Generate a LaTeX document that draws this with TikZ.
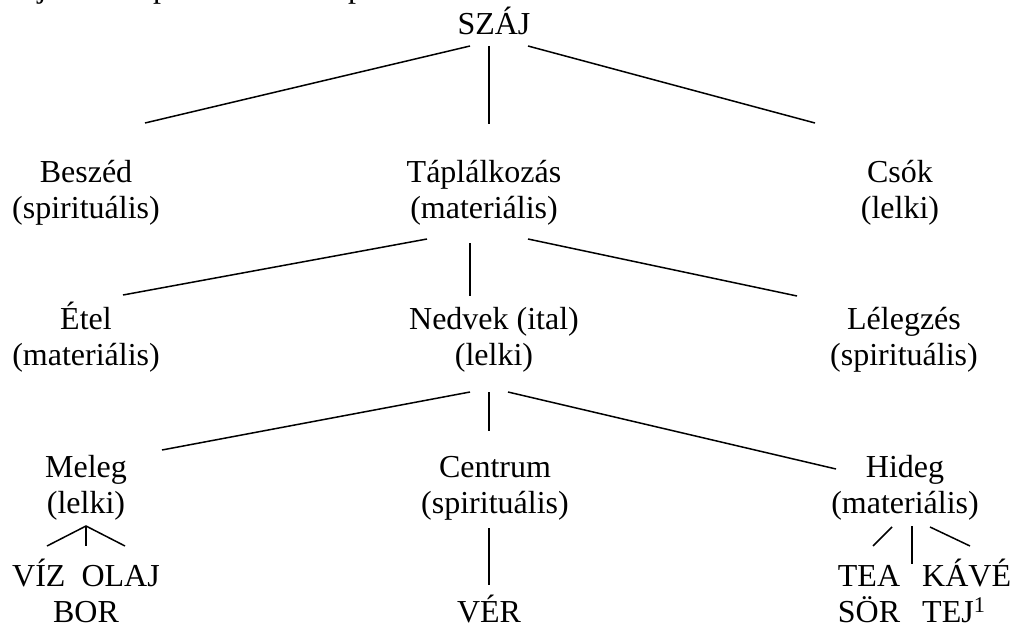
\documentclass[tikz,border=0pt]{standalone}
\usepackage{fontspec}
\setmainfont{Liberation Serif}
\begin{document}
\begin{tikzpicture}[x=1pt,y=-1pt,
  txt/.style={inner sep=0pt, align=center, anchor=base, font=\fontsize{32}{36}\selectfont},
  link/.style={line width=1.5pt}]
\useasboundingbox (0,0) rectangle (1013,626);
% cut-off line above
\begin{scope}
\clip (0,0) rectangle (1013,626);
\node[txt] (f1) at (42,-2) {j};
\node[txt] (f2) at (161,-2) {p};
\node[txt] (f3) at (356,-2) {p};
\end{scope}
% nodes (two-line nodes are placed by the baseline of their last line)
\node[txt] (szaj) at (494,35) {SZÁJ};
\node[txt] (besz) at (86,218) {Beszéd\\(spirituális)};
\node[txt] (tapl) at (484,218) {Táplálkozás\\(materiális)};
\node[txt] (csok) at (900,218) {Csók\\(lelki)};
\node[txt] (etel) at (86,365) {Étel\\(materiális)};
\node[txt] (nedv) at (494,365) {Nedvek (ital)\\(lelki)};
\node[txt] (lele) at (904,365) {Lélegzés\\(spirituális)};
\node[txt] (mele) at (86,513) {Meleg\\(lelki)};
\node[txt] (cent) at (495,513) {Centrum\\(spirituális)};
\node[txt] (hide) at (905,513) {Hideg\\(materiális)};
\node[txt] (viz) at (86,622) {VÍZ\hspace{0.5em}OLAJ\\BOR};
\node[txt] (ver) at (489,622) {VÉR};
\node[txt] (tea) at (869,622) {TEA\\SÖR};
\node[txt,anchor=base west] (kave) at (922,586) {KÁVÉ};
\node[txt,anchor=base west] (tej) at (922,622) {TEJ\textsuperscript{1}};
% connector end points
\coordinate (s1) at (470,46);  \coordinate (s2) at (489,46);  \coordinate (s3) at (528,46);
\coordinate (b0) at (145,123); \coordinate (t0) at (489,124); \coordinate (c0) at (815,123);
\coordinate (t1) at (427,239); \coordinate (t2) at (470,243); \coordinate (t3) at (528,239);
\coordinate (e0) at (123,295); \coordinate (n0) at (470,296); \coordinate (l0) at (797,296);
\coordinate (n1) at (470,392); \coordinate (n2) at (489,392); \coordinate (n3) at (508,392);
\coordinate (m0) at (162,450); \coordinate (c1) at (489,431); \coordinate (h0) at (836,469);
\coordinate (m1) at (86,526);  \coordinate (mL) at (47,546);  \coordinate (mM) at (86,546); \coordinate (mR) at (125,546);
\coordinate (ce1) at (489,528); \coordinate (ce2) at (489,585);
\coordinate (h1) at (892,527); \coordinate (hL) at (873,546);
\coordinate (h2) at (912,526); \coordinate (hM) at (912,564);
\coordinate (h3) at (930,527); \coordinate (hR) at (970,546);
% connectors
\draw[link] (s1) -- (b0);
\draw[link] (s2) -- (t0);
\draw[link] (s3) -- (c0);
\draw[link] (t1) -- (e0);
\draw[link] (t2) -- (n0);
\draw[link] (t3) -- (l0);
\draw[link] (n1) -- (m0);
\draw[link] (n2) -- (c1);
\draw[link] (n3) -- (h0);
\draw[link] (mL) -- (m1) -- (mR);
\draw[link] (m1) -- (mM);
\draw[link] (ce1) -- (ce2);
\draw[link] (h1) -- (hL);
\draw[link] (h2) -- (hM);
\draw[link] (h3) -- (hR);
\end{tikzpicture}
\end{document}
